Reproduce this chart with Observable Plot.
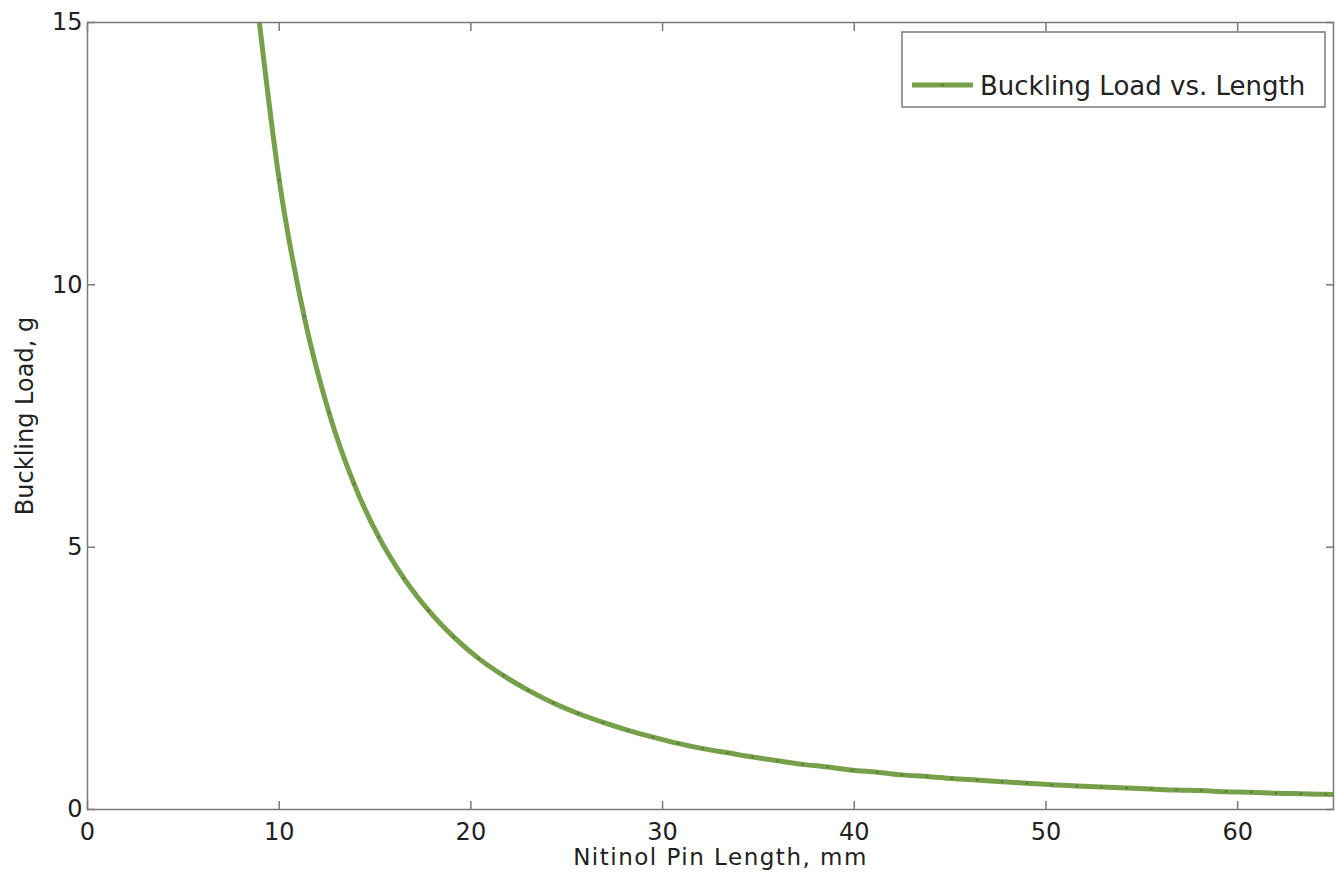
<!DOCTYPE html>
<html>
<head>
<meta charset="utf-8">
<script src="https://cdn.jsdelivr.net/npm/d3@7"></script>
<script src="https://cdn.jsdelivr.net/npm/@observablehq/plot@0.6"></script>
<style>
  html, body { margin: 0; padding: 0; background: #fff; }
  #chart { width: 1344px; height: 882px; }
</style>
</head>
<body>
<div id="chart"></div>
<script>
// Nitinol pin length (mm) and buckling load (g)
const lengthMm = [8.7, 10.0, 11.3, 12.6, 13.9, 15.2, 16.5, 17.8, 19.1, 20.4, 21.7, 23.0, 24.3, 25.6, 26.9, 28.2, 29.5, 30.8, 32.1, 33.4, 34.7, 36.0, 37.3, 38.6, 39.9, 41.2, 42.5, 43.8, 45.1, 46.4, 47.7, 49.0, 50.3, 51.6, 52.9, 54.2, 55.5, 56.8, 58.1, 59.4, 60.7, 62.0, 63.3, 64.6, 65.0];
const loadG = [15.85, 12.00, 9.40, 7.56, 6.21, 5.19, 4.41, 3.79, 3.29, 2.88, 2.55, 2.27, 2.03, 1.83, 1.66, 1.51, 1.38, 1.26, 1.16, 1.08, 1.00, 0.93, 0.86, 0.81, 0.75, 0.71, 0.66, 0.63, 0.59, 0.56, 0.53, 0.50, 0.47, 0.45, 0.43, 0.41, 0.39, 0.37, 0.36, 0.34, 0.33, 0.31, 0.30, 0.29, 0.285];
const xTicks = [0, 10, 20, 30, 40, 50, 60];
const yTicks = [0, 5, 10, 15];
const xLabel = "Nitinol Pin Length, mm";
const yLabel = "Buckling Load, g";
const seriesName = "Buckling Load vs. Length";

const data = lengthMm.map((x, i) => ({x, y: loadG[i]}));
const lineColor = "#77a04a";
const dotColor = "#5e7d3a";
const axisColor = "#7a7a7a";
const textColor = "#222";
const font = "'DejaVu Sans', sans-serif";

const chart = Plot.plot({
  width: 1344,
  height: 882,
  marginLeft: 87,
  marginRight: 11,
  marginTop: 22,
  marginBottom: 73,
  style: {fontFamily: font, fontSize: "24px", color: textColor, background: "#fff"},
  x: {domain: [0, 65]},
  y: {domain: [0, 15]},
  marks: [
    Plot.line(data, {x: "x", y: "y", stroke: lineColor, strokeWidth: 5, curve: "monotone-x", clip: true}),
    Plot.dot(data.filter(d => d.y <= 15), {x: "x", y: "y", r: 1.4, fill: dotColor, stroke: null, clip: true}),
    Plot.frame({stroke: axisColor, strokeWidth: 1.5}),
    Plot.axisX({anchor: "bottom", ticks: xTicks, tickSize: -8, stroke: axisColor, strokeWidth: 1.5, tickFormat: () => "", label: null}),
    Plot.axisX({anchor: "top", ticks: xTicks, tickSize: -8, stroke: axisColor, strokeWidth: 1.5, tickFormat: () => "", label: null}),
    Plot.axisY({anchor: "left", ticks: yTicks, tickSize: -8, stroke: axisColor, strokeWidth: 1.5, tickFormat: () => "", label: null}),
    Plot.axisY({anchor: "right", ticks: yTicks, tickSize: -8, stroke: axisColor, strokeWidth: 1.5, tickFormat: () => "", label: null}),
    Plot.text(xTicks, {x: d => d, text: d => String(d), frameAnchor: "bottom", lineAnchor: "top", dy: 13, fontSize: 24, fill: textColor}),
    Plot.text(yTicks, {y: d => d, text: d => String(d), frameAnchor: "left", textAnchor: "end", dx: -5, fontSize: 24, fill: textColor}),
    Plot.text([xLabel], {frameAnchor: "bottom", textAnchor: "middle", dx: 10, dy: 55, fontSize: 23, fill: textColor}),
    Plot.text([yLabel], {frameAnchor: "left", textAnchor: "middle", dx: -62, rotate: -90, fontSize: 24, fill: textColor})
  ]
});
document.getElementById("chart").appendChild(chart);

const svg = d3.select(chart);
// slightly wider tracking on the x-axis title, as in the reference
svg.selectAll("text").filter(function() { return this.textContent === xLabel; })
  .style("letter-spacing", "1.5px");

// Legend box inside the plot area (upper right)
const g = svg.append("g").attr("class", "legend");
g.append("rect").attr("x", 902).attr("y", 32).attr("width", 423).attr("height", 75)
  .attr("fill", "#fff").attr("stroke", axisColor).attr("stroke-width", 1.5);
g.append("line").attr("x1", 912).attr("x2", 973).attr("y1", 85).attr("y2", 85)
  .attr("stroke", lineColor).attr("stroke-width", 5);
g.append("circle").attr("cx", 942.5).attr("cy", 85).attr("r", 1.4).attr("fill", dotColor);
g.append("text").attr("x", 980).attr("y", 95).attr("font-size", 26)
  .attr("text-anchor", "start")
  .attr("font-family", font).attr("fill", textColor).text(seriesName);
</script>
</body>
</html>
